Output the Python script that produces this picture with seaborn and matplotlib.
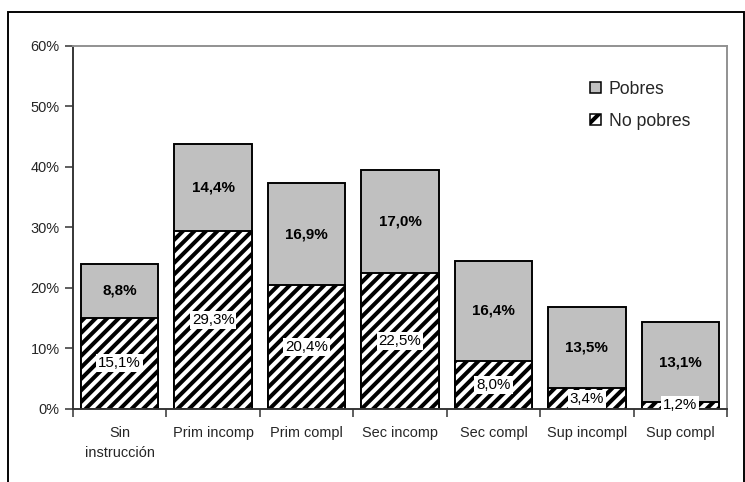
import matplotlib
matplotlib.use("Agg")
import matplotlib.pyplot as plt
import matplotlib.patches as mpatches
import seaborn as sns
import pandas as pd
import numpy as np

categorias = ["Sin\ninstrucción", "Prim incomp", "Prim compl", "Sec incomp",
              "Sec compl", "Sup incompl", "Sup compl"]
no_pobres = [15.1, 29.3, 20.4, 22.5, 8.0, 3.4, 1.2]
pobres = [8.8, 14.4, 16.9, 17.0, 16.4, 13.5, 13.1]
yticks = [0, 10, 20, 30, 40, 50, 60]

sns.set_style("white")
plt.rcParams["font.family"] = ["Liberation Sans", "DejaVu Sans"]
plt.rcParams["hatch.linewidth"] = 2.1
plt.rcParams["hatch.color"] = "black"

DPI = 138
fig = plt.figure(figsize=(745 / DPI, 482 / DPI), dpi=DPI)
ax = fig.add_axes([73 / 745, 1 - 409 / 482, (727 - 73) / 745, (409 - 45.5) / 482])

df = pd.DataFrame({"cat": categorias, "np": no_pobres, "p": pobres})
df["total"] = df["np"] + df["p"]

sns.barplot(data=df, x="cat", y="total", color="#C0C0C0", saturation=1,
            edgecolor="black", linewidth=1.0, width=0.83, ax=ax)
sns.barplot(data=df, x="cat", y="np", color="white", saturation=1,
            edgecolor="black", linewidth=1.0, width=0.83, hatch="////", ax=ax)

for i, (a, b) in enumerate(zip(no_pobres, pobres)):
    ax.text(i, a / 2, f"{a:.1f}%".replace(".", ","), ha="center", va="center",
            fontsize=7.9, color="black",
            bbox=dict(facecolor="white", edgecolor="none", pad=1.0))
    ax.text(i, a + b / 2, f"{b:.1f}%".replace(".", ","), ha="center", va="center",
            fontsize=7.9, fontweight="bold", color="black")

ax.set_ylim(0, 60)
ax.set_xlim(-0.5, len(categorias) - 0.5)
ax.set_yticks(yticks)
ax.set_yticklabels([f"{t}%" for t in yticks], fontsize=7.6)
ax.set_xticks(np.arange(-0.5, len(categorias), 1.0))
ax.set_xticklabels([])
ax.set_xticks(np.arange(len(categorias)), minor=True)
ax.set_xticklabels(categorias, minor=True, fontsize=7.6, linespacing=1.5)
ax.tick_params(axis="x", which="major", direction="out", length=4, width=0.8,
               color="#333333", bottom=True)
ax.tick_params(axis="x", which="minor", length=0, pad=9, bottom=True)
ax.tick_params(axis="y", direction="out", length=4, width=0.8, color="#333333",
               left=True, pad=3)
ax.set_xlabel("")
ax.set_ylabel("")

for s in ["left", "bottom"]:
    ax.spines[s].set_color("#333333")
    ax.spines[s].set_linewidth(1.0)
for s in ["top", "right"]:
    ax.spines[s].set_visible(True)
    ax.spines[s].set_color("#909090")
    ax.spines[s].set_linewidth(1.0)

h1 = mpatches.Patch(facecolor="#C0C0C0", edgecolor="black", linewidth=0.8, label="Pobres")
h2 = mpatches.Patch(facecolor="white", edgecolor="black", linewidth=0.8, hatch="//",
                    label="No pobres")
leg = fig.legend(handles=[h1, h2], loc="upper left",
                 bbox_to_anchor=(590 / 745, 1 - 81 / 482), frameon=False,
                 fontsize=9.2, handlelength=0.6, handleheight=0.6,
                 handletextpad=0.45, labelspacing=0.85, borderaxespad=0, borderpad=0)

frame = mpatches.Rectangle((8 / 745, -10 / 482), (743.5 - 8) / 745, (480 - 0) / 482,
                           transform=fig.transFigure, fill=False,
                           edgecolor="black", linewidth=1.0)
fig.patches.append(frame)

fig.savefig("out.png", dpi=DPI)
